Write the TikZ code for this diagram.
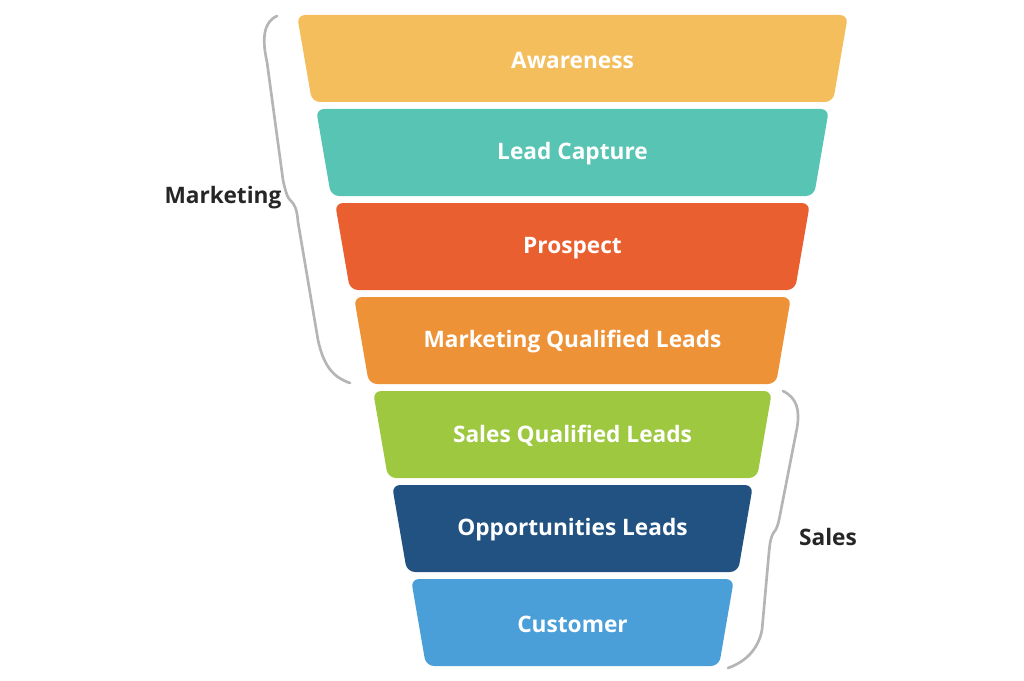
\documentclass[tikz,border=0pt]{standalone}
\usepackage{fontspec}
\setmainfont{Open Sans}
\definecolor{c1}{HTML}{F4BE5C}
\definecolor{c2}{HTML}{58C4B4}
\definecolor{c3}{HTML}{EA5F2F}
\definecolor{c4}{HTML}{EE9238}
\definecolor{c5}{HTML}{9DC83F}
\definecolor{c6}{HTML}{215282}
\definecolor{c7}{HTML}{4A9FD8}
\definecolor{br}{HTML}{B5B5B5}
\tikzset{lay/.style={rounded corners=6pt},
lbl/.style={text=white,font=\bfseries\fontsize{17}{20}\selectfont},
side/.style={text=black!85,font=\bfseries\fontsize{17}{20}\selectfont},
brace/.style={draw=br,line width=2pt,line cap=round}}
\begin{document}
\begin{tikzpicture}[x=0.75pt,y=-0.75pt]
\useasboundingbox (0,0) rectangle (1024,681);
\foreach \i/\c/\t in {0/c1/Awareness,1/c2/Lead Capture,2/c3/Prospect,3/c4/Marketing Qualified Leads,4/c5/Sales Qualified Leads,5/c6/Opportunities Leads,6/c7/Customer}{
 \pgfmathsetmacro{\yt}{15+94*\i}
 \pgfmathsetmacro{\yb}{\yt+87}
 \pgfmathsetmacro{\xl}{297+19*\i}
 \pgfmathsetmacro{\xr}{848-19*\i}
 \fill[\c,lay] (\xl,\yt) -- (\xr,\yt) -- (\xr-15,\yb) -- (\xl+15,\yb) -- cycle;
 \node[lbl] (n\i) at (572.5,\yt+45) {\t};
}
\node[side] (mk) at (223,198) {Marketing};
\node[side] (sl) at (828,537) {Sales};
\draw[brace] (277,16) .. controls (263,22) and (262,40) .. (267,62) -- (283,180) .. controls (286,194) and (288,198) .. (290,200) .. controls (295,204) and (297,210) .. (298,222) -- (318,340) .. controls (324,368) and (335,378) .. (350,383);
\draw[brace] (783,391) .. controls (797,398) and (800,410) .. (797,428) -- (780,515) .. controls (778,526) and (776,530) .. (774,532) .. controls (771,536) and (770,542) .. (769,552) -- (762,630) .. controls (758,650) and (745,662) .. (728,668);
\end{tikzpicture}
\end{document}
